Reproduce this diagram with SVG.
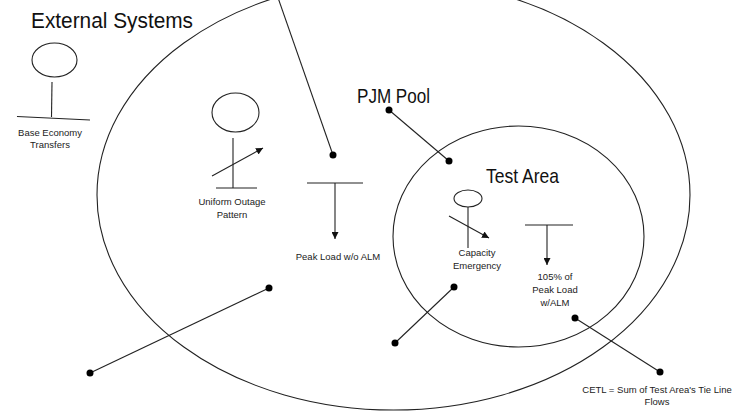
<svg xmlns="http://www.w3.org/2000/svg" width="736" height="412" viewBox="0 0 736 412">
<style>
.bnd{fill:none;stroke:#222;stroke-width:1.1}
.ln{fill:none;stroke:#222;stroke-width:1.1}
.dot{fill:#000}
.big{font-family:"Liberation Sans",Arial,sans-serif;fill:#111}
.sm{font-family:"Liberation Sans",Arial,sans-serif;font-size:9.5px;fill:#222;text-anchor:middle}
</style>
<defs>
<marker id="ah" viewBox="0 0 10 10" refX="10" refY="5" markerWidth="7" markerHeight="7" markerUnits="userSpaceOnUse" orient="auto">
<path d="M0,0 L10,5 L0,10 z" fill="#111"/>
</marker>
</defs>
<rect width="736" height="412" fill="#fff"/>
<g id="pjm-pool">
<ellipse class="bnd" cx="393.5" cy="195" rx="296.5" ry="215"/>
<text class="big" x="357" y="103" font-size="21" textLength="73" lengthAdjust="spacingAndGlyphs">PJM Pool</text>
</g>
<g id="test-area">
<ellipse class="bnd" cx="518.5" cy="236.5" rx="125.5" ry="110.5"/>
<text class="big" x="486" y="183" font-size="21" textLength="73" lengthAdjust="spacingAndGlyphs">Test Area</text>
</g>
<g id="external-systems">
<text class="big" x="31" y="28" font-size="22" textLength="162" lengthAdjust="spacingAndGlyphs">External Systems</text>
</g>
<g id="base-economy">
<ellipse class="ln" cx="54.5" cy="60" rx="22.5" ry="17"/>
<line class="ln" x1="52" y1="82" x2="51.5" y2="117"/>
<line class="ln" x1="17" y1="116.5" x2="90" y2="120"/>
<text class="sm" x="50" y="136">Base Economy</text>
<text class="sm" x="50" y="148">Transfers</text>
</g>
<g id="uniform-outage">
<ellipse class="ln" cx="235.5" cy="112.5" rx="23.5" ry="19.5"/>
<line class="ln" x1="233" y1="138" x2="233" y2="188"/>
<line class="ln" x1="216" y1="188" x2="257" y2="188"/>
<line class="ln" x1="212" y1="176" x2="263" y2="148" marker-end="url(#ah)"/>
<text class="sm" x="232" y="205">Uniform Outage</text>
<text class="sm" x="232" y="218">Pattern</text>
</g>
<g id="peak-load">
<line class="ln" x1="307" y1="183" x2="363" y2="183"/>
<line class="ln" x1="335" y1="183" x2="335" y2="239" marker-end="url(#ah)"/>
<text class="sm" x="338" y="260">Peak Load w/o ALM</text>
</g>
<g id="capacity-emergency">
<ellipse class="ln" cx="468" cy="198.5" rx="14" ry="8.5"/>
<line class="ln" x1="468" y1="207" x2="468" y2="248"/>
<line class="ln" x1="449" y1="216" x2="489" y2="238" marker-end="url(#ah)"/>
<text class="sm" x="477" y="256">Capacity</text>
<text class="sm" x="477" y="269">Emergency</text>
</g>
<g id="peak-load-alm">
<line class="ln" x1="525" y1="225" x2="573" y2="225"/>
<line class="ln" x1="547" y1="225" x2="547" y2="265" marker-end="url(#ah)"/>
<text class="sm" x="555" y="280">105% of</text>
<text class="sm" x="555" y="293">Peak Load</text>
<text class="sm" x="555" y="306">w/ALM</text>
</g>
<g id="cetl">
<text class="sm" x="657" y="393">CETL = Sum of Test Area's Tie Line</text>
<text class="sm" x="657" y="405">Flows</text>
</g>
<g id="connectors">
<line class="ln" x1="276" y1="-8" x2="333" y2="155"/>
<circle class="dot" cx="333" cy="155" r="3.5"/>
<line class="ln" x1="389" y1="110" x2="449" y2="161"/>
<circle class="dot" cx="389" cy="110" r="3.5"/>
<circle class="dot" cx="449" cy="161" r="3.5"/>
<line class="ln" x1="269" y1="288" x2="90" y2="373"/>
<circle class="dot" cx="269" cy="288" r="3.5"/>
<circle class="dot" cx="90" cy="373" r="3.5"/>
<line class="ln" x1="454" y1="287" x2="395" y2="343"/>
<circle class="dot" cx="454" cy="287" r="3.5"/>
<circle class="dot" cx="395" cy="343" r="3.5"/>
<line class="ln" x1="575" y1="318" x2="660" y2="372"/>
<circle class="dot" cx="575" cy="318" r="3.5"/>
<circle class="dot" cx="660" cy="372" r="3.5"/>
</g>
</svg>
